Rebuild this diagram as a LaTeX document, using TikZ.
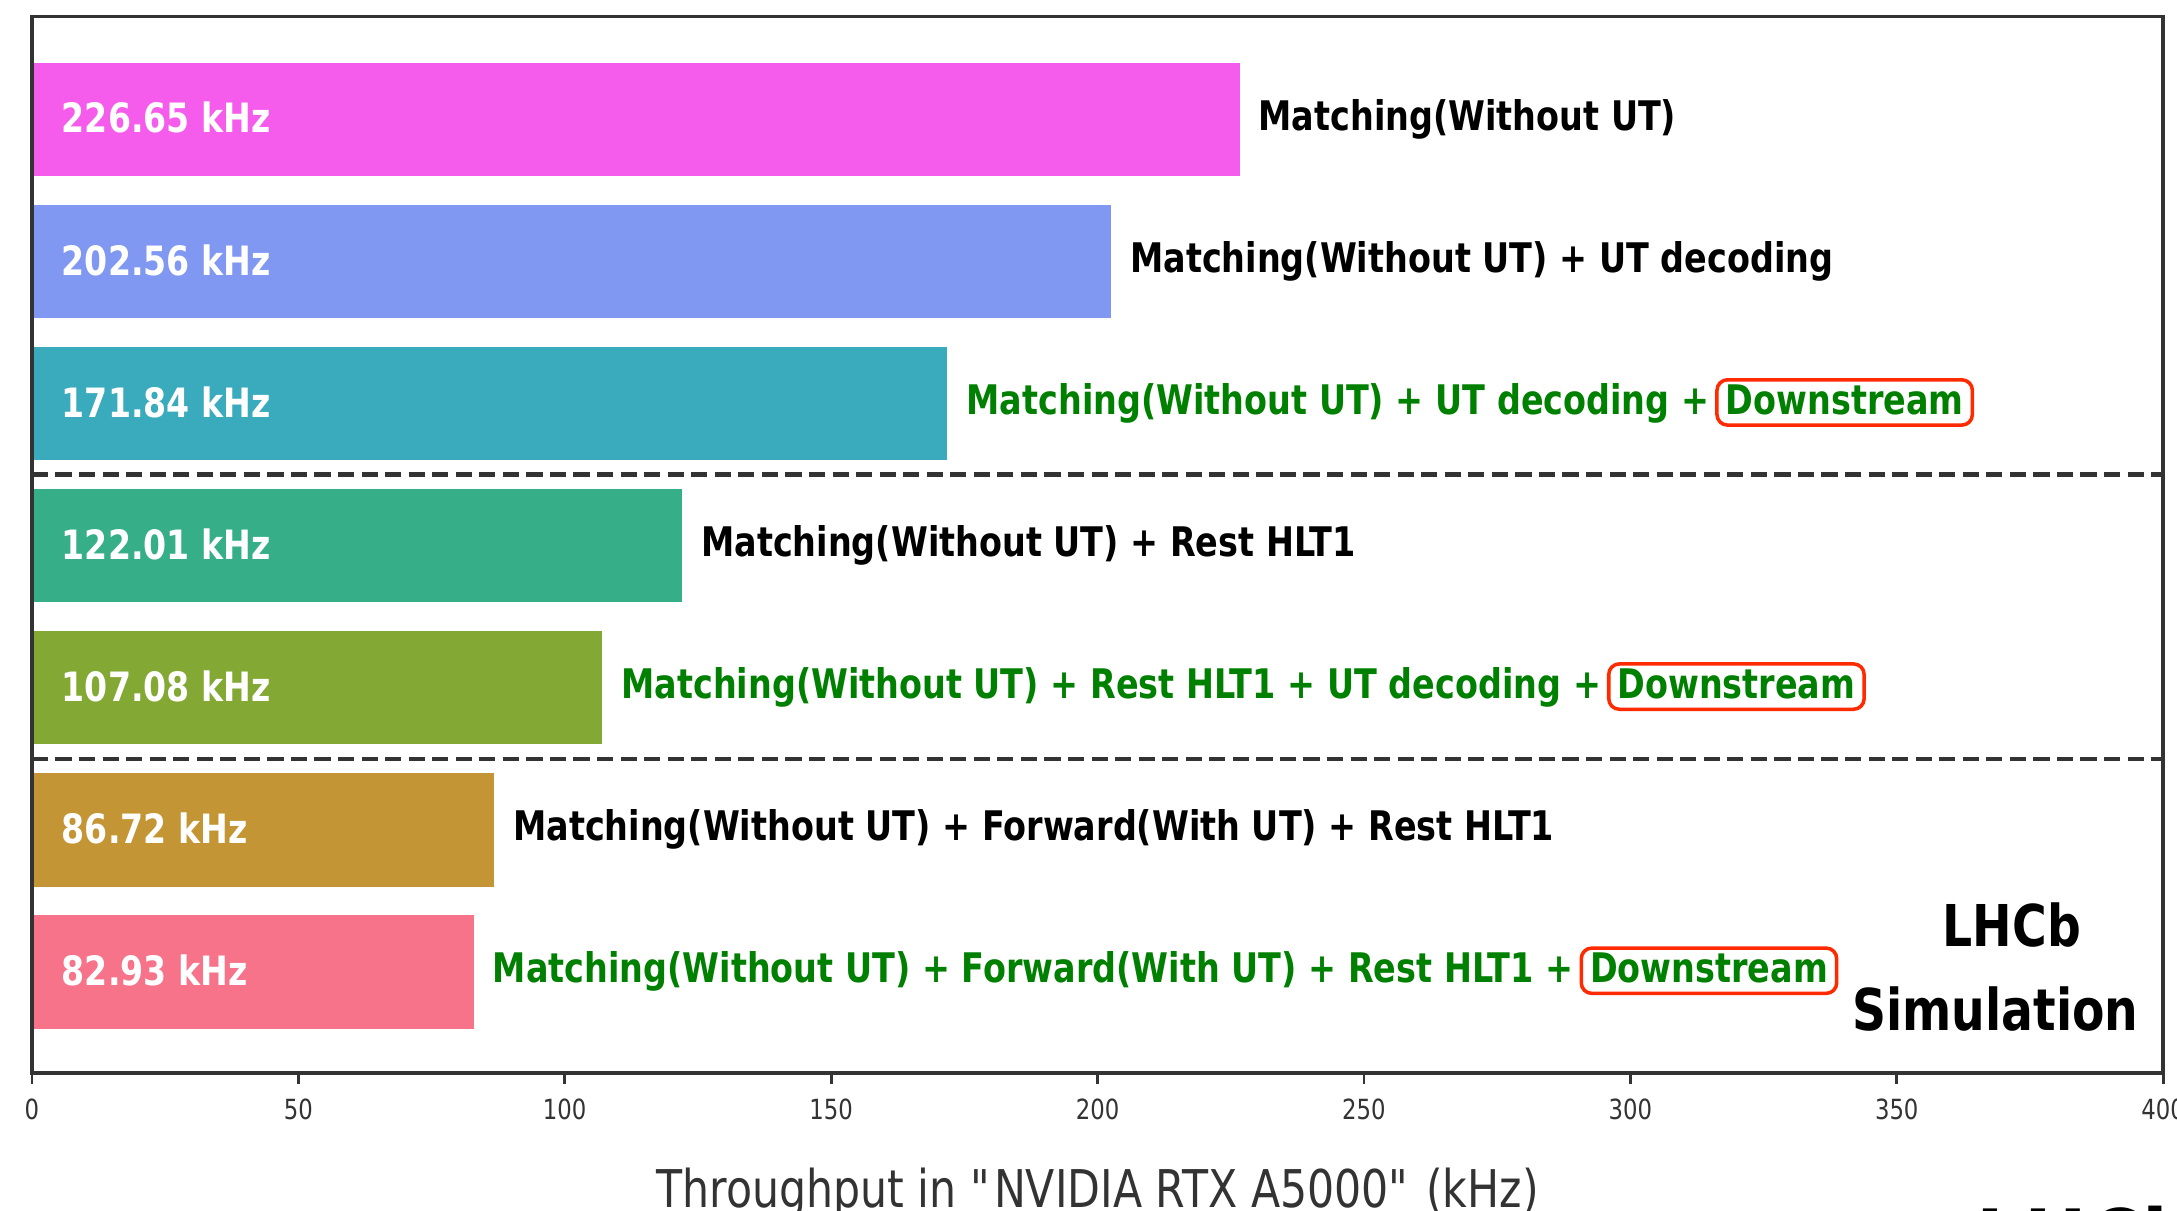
\documentclass[tikz,border=0pt]{standalone}
\usepackage{fontspec}
\setmainfont{DejaVu Sans}[FakeStretch=0.82]
\usetikzlibrary{positioning}
\definecolor{Frame}{HTML}{333333}
\definecolor{BarMagenta}{HTML}{F55CEB}
\definecolor{BarBlue}{HTML}{8098F2}
\definecolor{BarCyan}{HTML}{3AAABD}
\definecolor{BarTeal}{HTML}{36AF88}
\definecolor{BarOlive}{HTML}{84A834}
\definecolor{BarGold}{HTML}{C49534}
\definecolor{BarRose}{HTML}{F7738A}
\definecolor{TrackGreen}{HTML}{008000}
\definecolor{BoxRed}{HTML}{FF2A00}
\tikzset{valuelabel/.style={anchor=west,inner sep=0pt,text=white,font=\bfseries\fontsize{11.5}{13}\selectfont},desclabel/.style={anchor=west,inner sep=0pt,text=black,font=\bfseries\fontsize{11.6}{13}\selectfont},downlabel/.style={desclabel,text=TrackGreen},dsbox/.style={draw=BoxRed,line width=1pt,rounded corners=3pt,text=TrackGreen,font=\bfseries\fontsize{11.6}{13}\selectfont,inner xsep=2.5pt,inner ysep=2.6pt,text height=0.73em,text depth=0.04em},separator/.style={draw=Frame,line width=1.2pt,dash pattern=on 4.6pt off 2.1pt},ticklabel/.style={text=Frame,font=\fontsize{7.9}{9}\selectfont,inner sep=0pt},stamp/.style={text=black,font=\bfseries\fontsize{16.4}{18}\selectfont,inner sep=0pt}}

\begin{document}
\begin{tikzpicture}[x=0.05328cm,y=1.4208cm]
\useasboundingbox (-5.99,0.84) rectangle (402.6,-7.683);
\fill[white] (-5.99,0.84) rectangle (402.6,-7.683);
% bars
\fill[BarMagenta] (0,0.4) rectangle (226.65,-0.4);
\fill[BarBlue] (0,-0.6) rectangle (202.56,-1.4);
\fill[BarCyan] (0,-1.6) rectangle (171.84,-2.4);
\fill[BarTeal] (0,-2.6) rectangle (122.01,-3.4);
\fill[BarOlive] (0,-3.6) rectangle (107.08,-4.4);
\fill[BarGold] (0,-4.6) rectangle (86.72,-5.4);
\fill[BarRose] (0,-5.6) rectangle (82.93,-6.4);
\draw[separator] (0,-2.5)--(400,-2.5);
\draw[separator] (0,-4.5)--(400,-4.5);
\draw[Frame,line width=1pt] (0,-6.713) rectangle (400,0.723);
\draw[Frame,line width=1.3pt] (0,-6.713)--(400,-6.713);
\draw[Frame,line width=0.8pt] (0,-6.713)--(0,-6.79) (50,-6.713)--(50,-6.79) (100,-6.713)--(100,-6.79) (150,-6.713)--(150,-6.79) (200,-6.713)--(200,-6.79) (250,-6.713)--(250,-6.79) (300,-6.713)--(300,-6.79) (350,-6.713)--(350,-6.79) (400,-6.713)--(400,-6.79);
% values inside the bars
\node[valuelabel] (v1) at (5.5,0.01) {226.65 kHz};
\node[valuelabel] (v2) at (5.5,-0.99) {202.56 kHz};
\node[valuelabel] (v3) at (5.5,-1.99) {171.84 kHz};
\node[valuelabel] (v4) at (5.5,-2.99) {122.01 kHz};
\node[valuelabel] (v5) at (5.5,-3.99) {107.08 kHz};
\node[valuelabel] (v6) at (5.5,-4.99) {86.72 kHz};
\node[valuelabel] (v7) at (5.5,-5.99) {82.93 kHz};
% configurations
\node[desclabel] (d1) at (230.1,0) {Matching(Without UT)};
\node[desclabel] (d2) at (206.0,-1) {Matching(Without UT) + UT decoding};
\node[downlabel] (d3) at (175.3,-2) {Matching(Without UT) + UT decoding +};
\node[dsbox,base right=1.5pt of d3] (b3) {Downstream};
\node[desclabel] (d4) at (125.5,-3) {Matching(Without UT) + Rest HLT1};
\node[downlabel] (d5) at (110.5,-4) {Matching(Without UT) + Rest HLT1 + UT decoding +};
\node[dsbox,base right=1.5pt of d5] (b5) {Downstream};
\node[desclabel] (d6) at (90.2,-5) {Matching(Without UT) + Forward(With UT) + Rest HLT1};
\node[downlabel] (d7) at (86.4,-6) {Matching(Without UT) + Forward(With UT) + Rest HLT1 +};
\node[dsbox,base right=1.5pt of d7] (b7) {Downstream};
% axis
\node[ticklabel] (t0) at (0,-6.967) {0};
\node[ticklabel] (t50) at (50,-6.967) {50};
\node[ticklabel] (t100) at (100,-6.967) {100};
\node[ticklabel] (t150) at (150,-6.967) {150};
\node[ticklabel] (t200) at (200,-6.967) {200};
\node[ticklabel] (t250) at (250,-6.967) {250};
\node[ticklabel] (t300) at (300,-6.967) {300};
\node[ticklabel] (t350) at (350,-6.967) {350};
\node[ticklabel] (t400) at (400,-6.967) {400};
\node[text=Frame,font=\fontsize{14.8}{17}\selectfont,inner sep=0pt] (xlab) at (200,-7.555) {Throughput in \textquotedbl NVIDIA RTX A5000\textquotedbl\ (kHz)};
\node[stamp] (lhcb) at (371.6,-5.67) {LHCb};
\node[stamp] (sim) at (368.5,-6.265) {Simulation};
\node[stamp,font=\bfseries\fontsize{26}{30}\selectfont,anchor=base west] (lhcbcut) at (364.9,-8.14) {LHCb};
\end{tikzpicture}
\end{document}
